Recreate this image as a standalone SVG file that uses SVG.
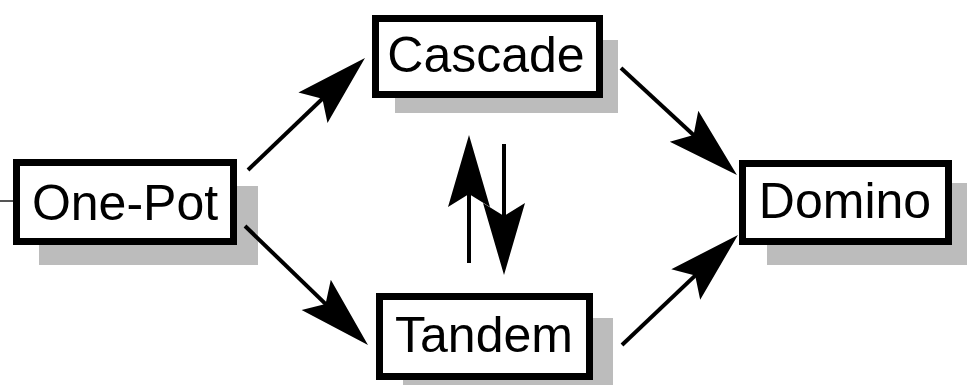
<svg xmlns="http://www.w3.org/2000/svg" width="967" height="385" viewBox="0 0 967 385">
<style>
.shadow{fill:#bcbcbc}
.box{fill:#ffffff;stroke:#000;stroke-width:7}
.lbl{font-family:"Liberation Sans",Arial,sans-serif;font-size:50px;fill:#000;text-anchor:middle}
.conn{stroke:#000;stroke-width:4;fill:none;marker-end:url(#ah)}
</style>
<defs>
<marker id="ah" markerUnits="userSpaceOnUse" viewBox="-44 -24 76 48" markerWidth="76" markerHeight="48" refX="0" refY="0" orient="auto">
<path d="M30,0 L-42,-21 L-29,0 L-42,21 Z" fill="#000"/>
</marker>
</defs>
<rect width="967" height="385" fill="#ffffff"/>
<line x1="0" y1="201" x2="13" y2="201" stroke="#555" stroke-width="2"/>
<g id="node-onepot">
<rect class="shadow" x="39" y="186" width="219" height="79"/>
<rect class="box" x="16.5" y="162.5" width="217" height="79"/>
<text class="lbl" x="125" y="220">One-Pot</text>
</g>
<g id="node-cascade">
<rect class="shadow" x="395" y="40" width="223" height="73"/>
<rect class="box" x="375.5" y="18.5" width="224" height="76"/>
<text class="lbl" x="486" y="72">Cascade</text>
</g>
<g id="node-tandem">
<rect class="shadow" x="403" y="318" width="210" height="67"/>
<rect class="box" x="379.5" y="296.5" width="210" height="80"/>
<text class="lbl" x="484" y="352">Tandem</text>
</g>
<g id="node-domino">
<rect class="shadow" x="767" y="183" width="200" height="82"/>
<rect class="box" x="742.5" y="163.5" width="206" height="78"/>
<text class="lbl" x="845" y="218">Domino</text>
</g>
<g id="connectors">
<line class="conn" x1="248" y1="170" x2="343.3" y2="78.7"/>
<line class="conn" x1="245" y1="226" x2="346.4" y2="324.1"/>
<line class="conn" x1="621" y1="68" x2="714.9" y2="154.7"/>
<line class="conn" x1="622" y1="345" x2="716.2" y2="255.6"/>
<line class="conn" x1="469" y1="263" x2="469" y2="165"/>
<line class="conn" x1="504" y1="144" x2="504" y2="245"/>
</g>
</svg>
